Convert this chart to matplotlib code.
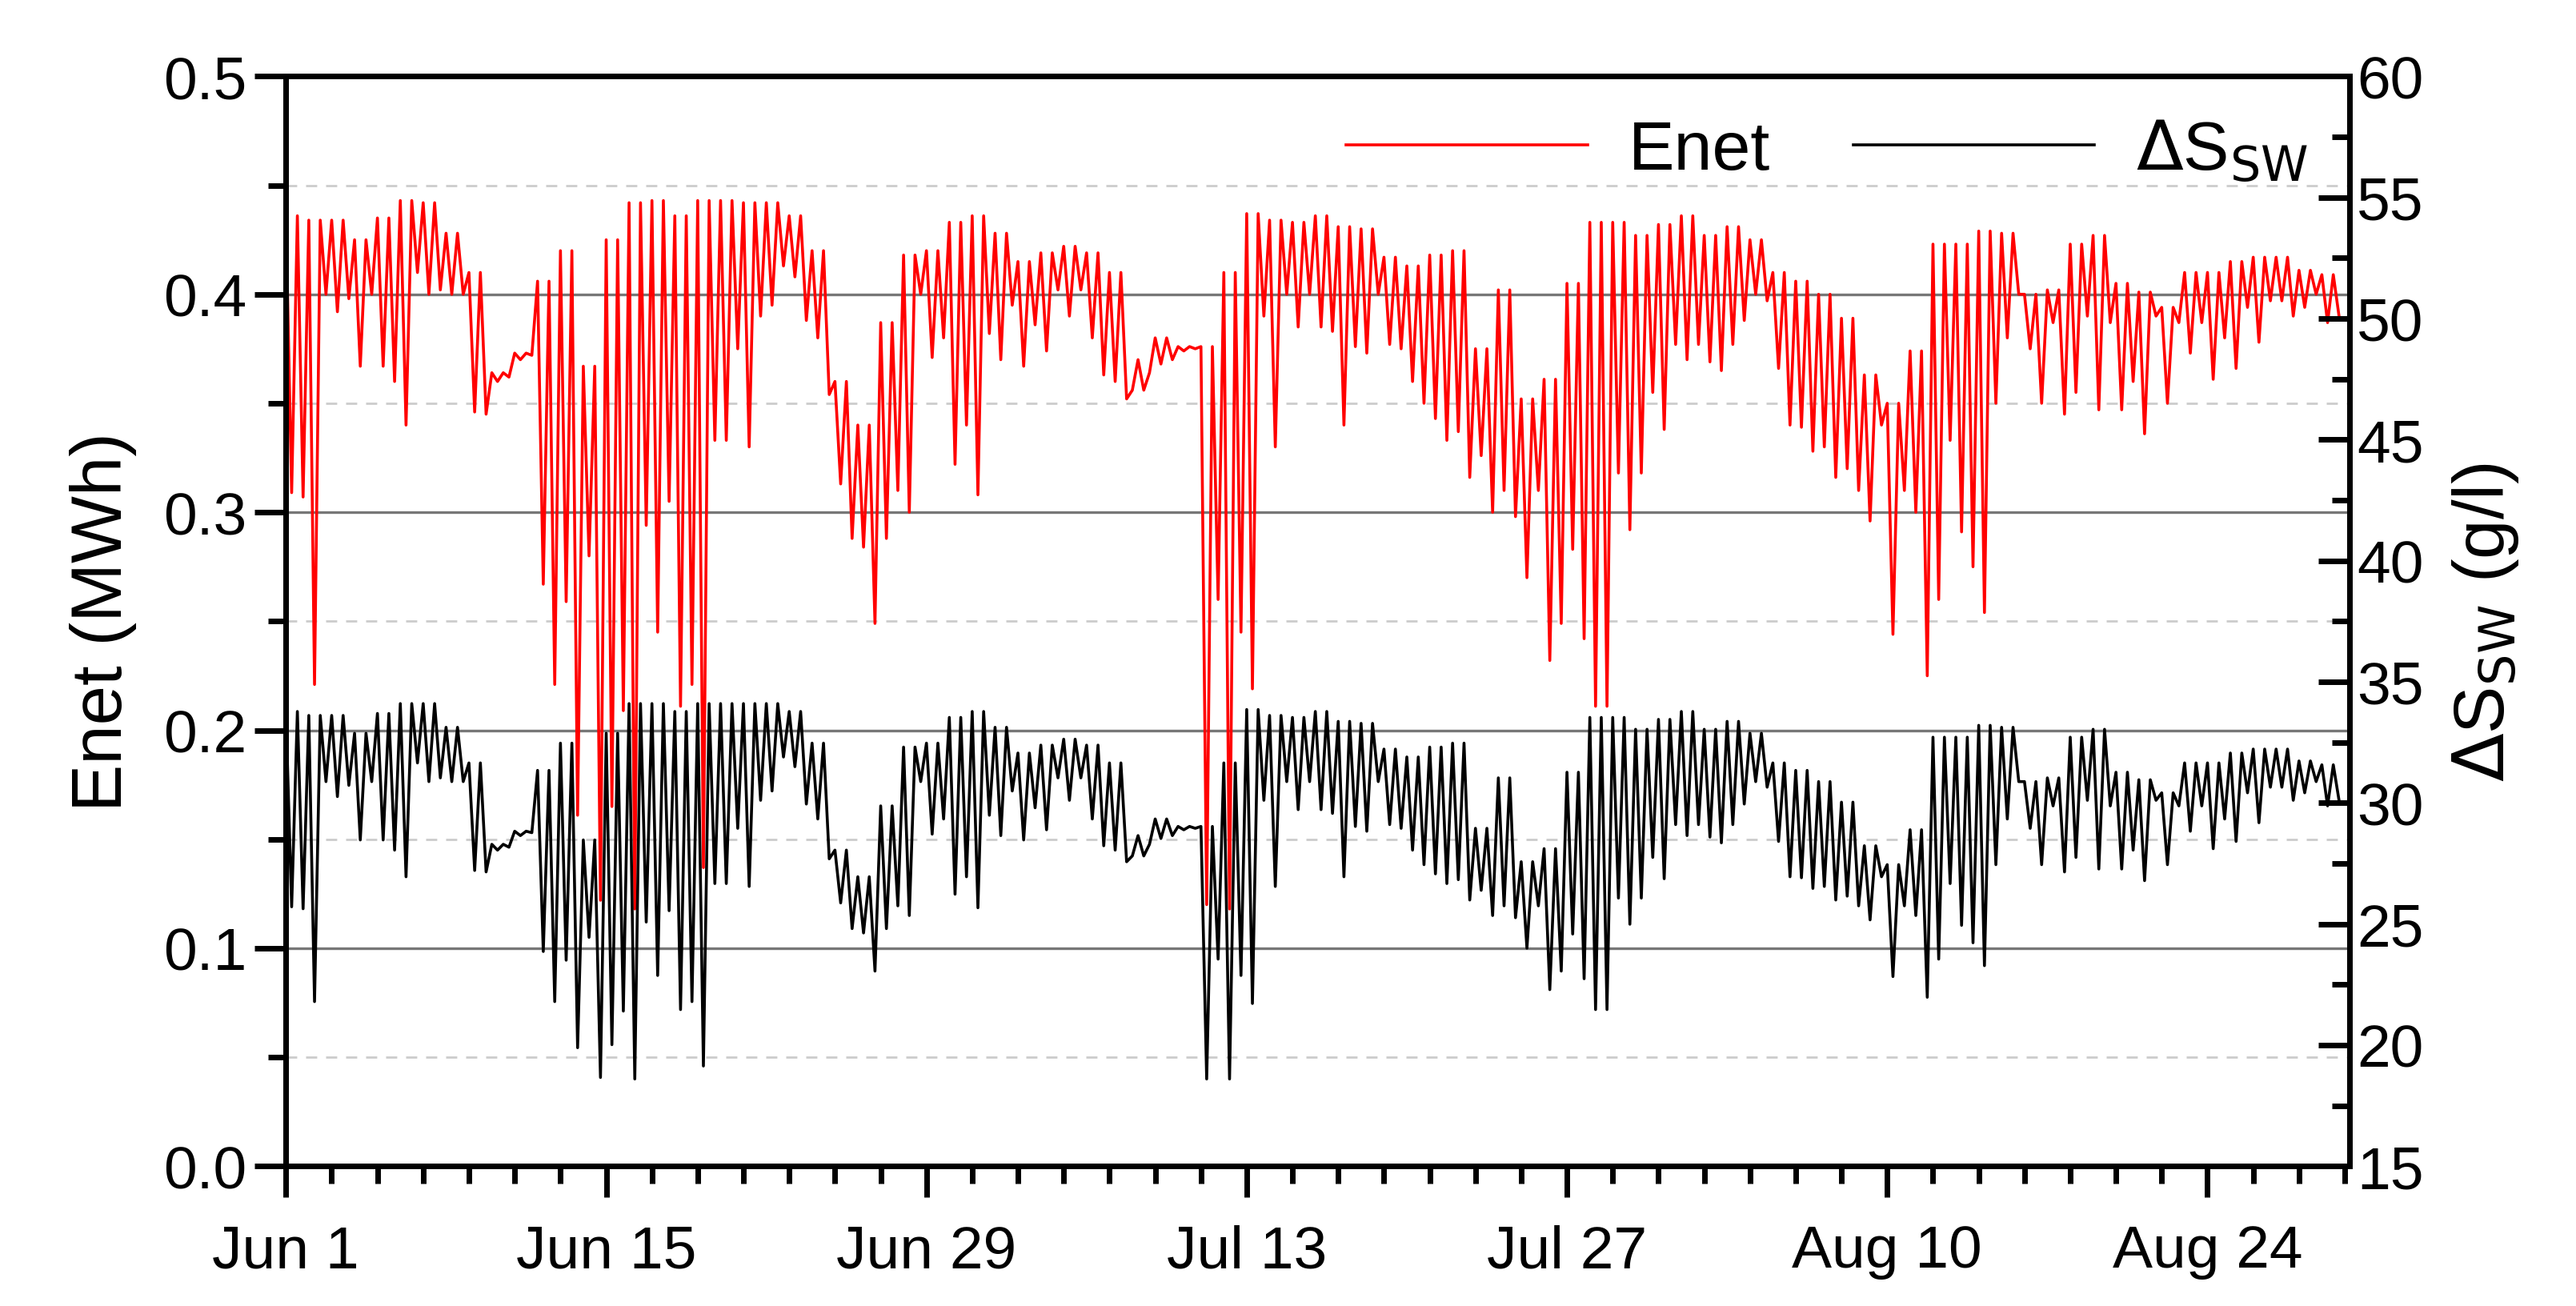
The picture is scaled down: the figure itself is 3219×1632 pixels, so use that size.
import numpy as np
import matplotlib
matplotlib.use("Agg")
import matplotlib.pyplot as plt
from matplotlib.ticker import MultipleLocator, FixedLocator, FixedFormatter

plt.rcParams['font.family'] = ['Liberation Sans', 'DejaVu Sans']

# daily readings of Enet (MWh): daily peak, first dip, second dip (day 0 = Jun 1)
enet_peak = [0.436, 0.434, 0.434, 0.425, 0.435, 0.443, 0.442, 0.428, 0.410, 0.364,
             0.373, 0.406, 0.420, 0.367, 0.425, 0.442, 0.443, 0.436, 0.443, 0.443,
             0.442, 0.442, 0.436, 0.420, 0.360, 0.340, 0.387, 0.418, 0.420, 0.433,
             0.436, 0.428, 0.415, 0.419, 0.422, 0.419, 0.410, 0.356, 0.380, 0.376,
             0.376, 0.410, 0.437, 0.434, 0.433, 0.436, 0.431, 0.430, 0.417, 0.413,
             0.418, 0.420, 0.375, 0.402, 0.352, 0.361, 0.405, 0.433, 0.433, 0.427,
             0.432, 0.436, 0.427, 0.431, 0.425, 0.410, 0.406, 0.400, 0.389, 0.363,
             0.350, 0.374, 0.423, 0.423, 0.429, 0.428, 0.400, 0.402, 0.423, 0.427,
             0.405, 0.401, 0.394, 0.410, 0.410, 0.415, 0.417, 0.417, 0.411, 0.409]
enet_dip1 = [0.309, 0.221, 0.392, 0.367, 0.367, 0.340, 0.400, 0.400, 0.346, 0.360,
             0.370, 0.267, 0.259, 0.280, 0.165, 0.118, 0.245, 0.211, 0.137, 0.333,
             0.330, 0.395, 0.408, 0.380, 0.313, 0.284, 0.288, 0.300, 0.371, 0.322,
             0.308, 0.370, 0.367, 0.374, 0.390, 0.380, 0.360, 0.370, 0.368, 0.374,
             0.120, 0.118, 0.219, 0.330, 0.385, 0.385, 0.340, 0.373, 0.377, 0.360,
             0.343, 0.337, 0.326, 0.310, 0.270, 0.232, 0.283, 0.211, 0.318, 0.318,
             0.338, 0.370, 0.369, 0.377, 0.400, 0.366, 0.339, 0.330, 0.320, 0.296,
             0.244, 0.300, 0.260, 0.291, 0.254, 0.380, 0.375, 0.387, 0.355, 0.347,
             0.347, 0.336, 0.350, 0.373, 0.361, 0.366, 0.378, 0.397, 0.394, 0.387]
enet_dip2 = [0.307, 0.400, 0.398, 0.400, 0.360, 0.410, 0.402, 0.400, 0.345, 0.362,
             0.372, 0.221, 0.161, 0.122, 0.209, 0.294, 0.305, 0.221, 0.333, 0.375,
             0.390, 0.413, 0.388, 0.354, 0.288, 0.249, 0.310, 0.400, 0.380, 0.340,
             0.382, 0.395, 0.386, 0.402, 0.402, 0.363, 0.352, 0.364, 0.370, 0.375,
             0.260, 0.245, 0.390, 0.400, 0.400, 0.383, 0.376, 0.400, 0.375, 0.350,
             0.333, 0.316, 0.300, 0.298, 0.310, 0.249, 0.242, 0.211, 0.292, 0.355,
             0.377, 0.377, 0.365, 0.388, 0.397, 0.340, 0.328, 0.316, 0.310, 0.340,
             0.310, 0.225, 0.333, 0.275, 0.350, 0.400, 0.350, 0.345, 0.390, 0.387,
             0.360, 0.390, 0.387, 0.387, 0.380, 0.394, 0.397, 0.390, 0.400, 0.390]

calib_enet = [0.12, 0.22, 0.30, 0.345, 0.375, 0.41, 0.44]
calib_dsw = [18.6, 21.75, 25.35, 27.15, 28.95, 31.65, 34.1]

date_ticks = [0, 14, 28, 42, 56, 70, 84]
date_labels = ['Jun 1', 'Jun 15', 'Jun 29', 'Jul 13', 'Jul 27', 'Aug 10', 'Aug 24']

# build the time series: peak, dip, peak, dip for each day
t = []
enet = []
for d in range(len(enet_peak)):
    t += [d, d + 0.25, d + 0.5, d + 0.75]
    enet += [enet_peak[d], enet_dip1[d], enet_peak[d], enet_dip2[d]]
t = np.array(t)
enet = np.array(enet)
dsw = np.interp(enet, calib_enet, calib_dsw)

fig = plt.figure(figsize=(16.095, 8.165), dpi=200)
ax = fig.add_axes([0.111, 0.107, 0.801, 0.834])
ax2 = ax.twinx()

l1, = ax.plot(t, enet, color='red', lw=1.3, label='Enet')
l2, = ax2.plot(t, dsw, color='black', lw=1.3, label=r'$\Delta$S$_{\mathrm{SW}}$')

ax.set_xlim(0, 90.2)
ax.set_ylim(0, 0.5)
ax2.set_ylim(15, 60)

for y in [0.1, 0.2, 0.3, 0.4]:
    ax.axhline(y, color='#777777', lw=1.2, zorder=0)
for y in [0.05, 0.15, 0.25, 0.35, 0.45]:
    ax.axhline(y, color='#cccccc', lw=1.0, ls=(0, (5, 4)), zorder=0)

ax.xaxis.set_major_locator(FixedLocator(date_ticks))
ax.xaxis.set_major_formatter(FixedFormatter(date_labels))
ax.xaxis.set_minor_locator(MultipleLocator(2))
ax.yaxis.set_major_locator(MultipleLocator(0.1))
ax.yaxis.set_minor_locator(MultipleLocator(0.05))
ax2.yaxis.set_major_locator(MultipleLocator(5))
ax2.yaxis.set_minor_locator(MultipleLocator(2.5))

ax.tick_params(axis='both', which='major', direction='out', length=14, width=2.5, labelsize=27)
ax.tick_params(axis='both', which='minor', direction='out', length=8, width=2.5)
ax2.tick_params(axis='y', which='major', direction='in', length=14, width=2.5, labelsize=27)
ax2.tick_params(axis='y', which='minor', direction='in', length=8, width=2.5)
ax.tick_params(axis='x', pad=12)

for a in (ax, ax2):
    for s in a.spines.values():
        s.set_linewidth(2.5)

ax.set_ylabel('Enet (MWh)', fontsize=32, labelpad=12)
ax2.set_ylabel(r'$\Delta$S$_{\mathrm{SW}}$ (g/l)', fontsize=32, labelpad=12)

ax.legend([l1, l2], ['Enet', r'$\Delta$S$_{\mathrm{SW}}$'], loc='upper right', ncol=2,
          frameon=False, fontsize=31, handlelength=3.5, columnspacing=1.2,
          borderaxespad=0.2, handletextpad=0.6)

fig.savefig('out.png', dpi=200)
